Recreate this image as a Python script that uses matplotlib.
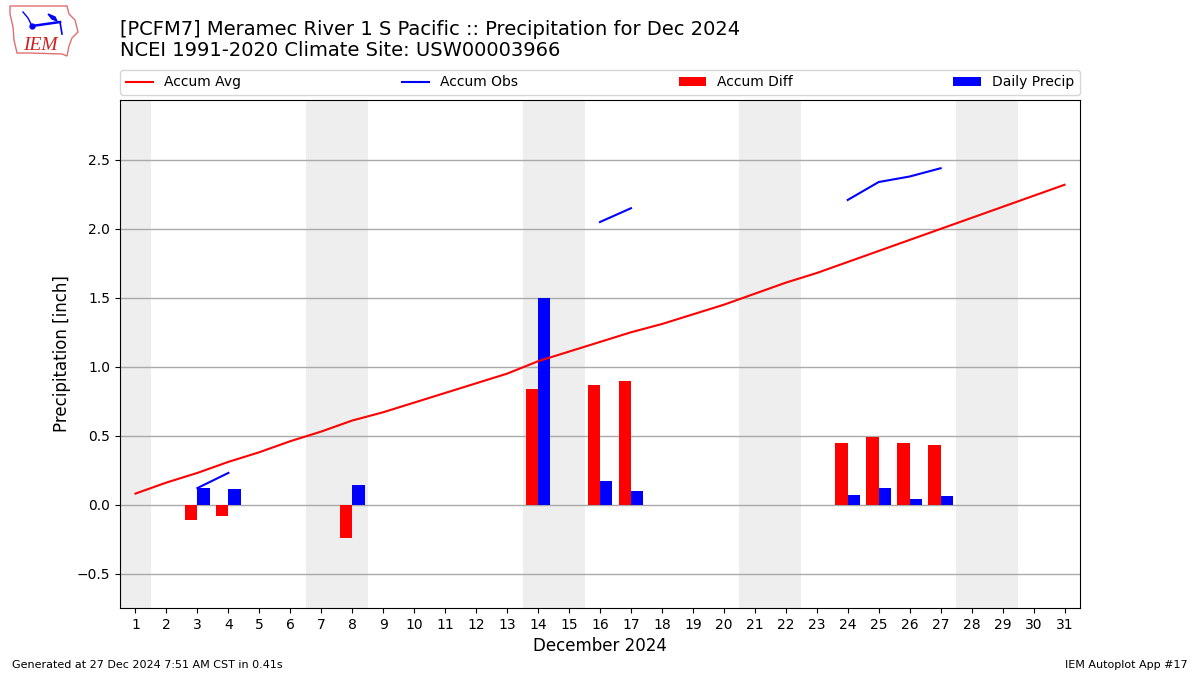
import numpy as np
import matplotlib
matplotlib.use("Agg")
import matplotlib.pyplot as plt
from matplotlib.patches import Polygon

# ---- data ----
days = list(range(1, 32))
accum_avg = [0.08, 0.16, 0.23, 0.31, 0.38, 0.46, 0.53, 0.61, 0.67, 0.74,
             0.81, 0.88, 0.95, 1.04, 1.11, 1.18, 1.25, 1.31, 1.38, 1.45,
             1.53, 1.61, 1.68, 1.76, 1.84, 1.92, 2.00, 2.08, 2.16, 2.24, 2.32]
nan = float("nan")
accum_obs = [nan, nan, 0.12, 0.23, nan, nan, nan, nan, nan, nan,
             nan, nan, nan, nan, nan, 2.05, 2.15, nan, nan, nan,
             nan, nan, nan, 2.21, 2.34, 2.38, 2.44, nan, nan, nan, nan]
bar_days = [3, 4, 8, 14, 16, 17, 24, 25, 26, 27]
accum_diff = [-0.11, -0.08, -0.24, 0.84, 0.87, 0.90, 0.45, 0.49, 0.45, 0.43]
daily_precip = [0.12, 0.11, 0.14, 1.50, 0.17, 0.10, 0.07, 0.12, 0.04, 0.06]
weekend_spans = [(1, 1), (7, 8), (14, 15), (21, 22), (28, 29)]
yticks = [-0.5, 0.0, 0.5, 1.0, 1.5, 2.0, 2.5]

title = ("[PCFM7] Meramec River 1 S Pacific :: Precipitation for Dec 2024\n"
         "NCEI 1991-2020 Climate Site: USW00003966")

fig = plt.figure(figsize=(12, 6.75), dpi=100)
ax = fig.add_axes([0.1, (675 - 608) / 675, 0.8, (608 - 100) / 675])

for a, b in weekend_spans:
    ax.axvspan(a - 0.5, b + 0.5, color="#EEEEEE", zorder=0, lw=0)

d = np.array(days, dtype=float)
bd = np.array(bar_days, dtype=float)
ax.plot(d, accum_avg, color="r", lw=1.5, label="Accum Avg", zorder=3)
ax.plot(d, accum_obs, color="b", lw=1.5, label="Accum Obs", zorder=3)
ax.bar(bd - 0.2, accum_diff, width=0.4, color="r", label="Accum Diff", zorder=2)
ax.bar(bd + 0.2, daily_precip, width=0.4, color="b", label="Daily Precip", zorder=2)

ax.set_xlim(0.5, 31.5)
ax.set_ylim(-0.75, 2.935)
ax.set_xticks(days)
ax.set_yticks(yticks)
ax.tick_params(labelsize=10)
ax.grid(axis="y", color="#aaaaaa", lw=1, zorder=1)
ax.set_axisbelow(True)
ax.set_ylabel("Precipitation [inch]", fontsize=12)
ax.set_xlabel("December 2024", fontsize=12)

ax.legend(loc="lower left", bbox_to_anchor=(0, 1.0098, 1, 0.049), mode="expand",
          ncol=4, borderaxespad=0, fontsize=10)

fig.text(0.1, 0.970, title, fontsize=14, va="top", ha="left", linespacing=1.12)
fig.text(0.01, 0.01, "Generated at 27 Dec 2024 7:51 AM CST in 0.41s", fontsize=8)
fig.text(0.99, 0.01, "IEM Autoplot App #17", fontsize=8, ha="right")

# simple logo (axes in pixel units)
lax = fig.add_axes([0, 1 - 62 / 675, 90 / 1200, 62 / 675])
lax.set_xlim(0, 90)
lax.set_ylim(62, 0)
lax.axis("off")
outline = [(10, 6), (67, 6), (69, 14), (75, 20), (78, 32), (72, 38), (69, 46),
           (67, 56), (62, 54), (30, 53), (17, 53), (14, 40), (13, 27), (10, 14)]
lax.add_patch(Polygon(outline, closed=True, fill=False, edgecolor="#e07070", lw=1))
lax.plot([32, 60], [26, 22], color="b", lw=1.8)
lax.plot([60, 62], [22, 34], color="b", lw=1.2)
lax.plot([23, 28, 32], [12, 18, 26], color="b", lw=1)
lax.add_patch(Polygon([(48, 14), (55, 17), (57, 21), (52, 19)], closed=True, color="b"))
lax.plot([32], [26], "o", color="b", ms=3.5)
lax.text(23, 45, "IEM", color="#cc2222", fontsize=14, family="Liberation Serif",
         style="italic", va="center", ha="left")

fig.savefig("out.png", dpi=100)
